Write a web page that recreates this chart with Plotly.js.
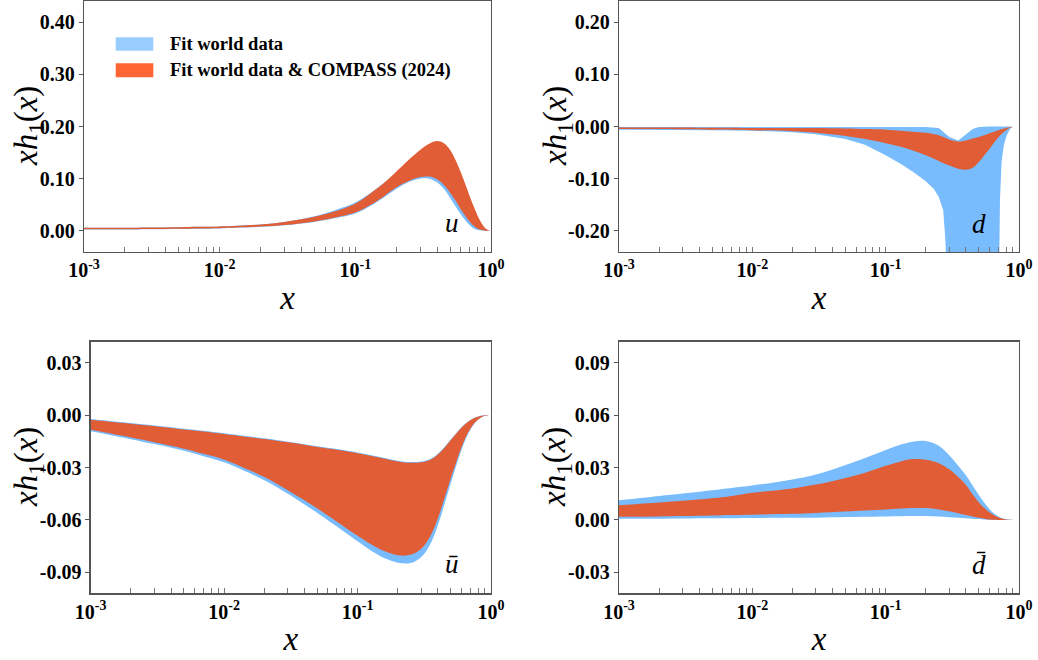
<!DOCTYPE html>
<html><head><meta charset="utf-8">
<script src="https://cdn.plot.ly/plotly-3.0.1.min.js"></script>
<style>html,body{margin:0;padding:0;background:#fff}#chart{width:1038px;height:660px}</style>
</head><body><div id="chart"></div>
<script>
// ---------- data ----------
const X = [0.001,0.002,0.003,0.005,0.007,0.01,0.02,0.03,0.05,0.07,0.1,0.13,0.16,0.2,0.25,0.3,0.35,0.4,0.45,0.5,0.55,0.6,0.65,0.7,0.75,0.8,0.85,0.9,0.95,1.0];

// u quark
const uWorldUp   = [0.006,0.006,0.0065,0.007,0.0075,0.008,0.012,0.017,0.028,0.039,0.054,0.073,0.090,0.110,0.128,0.140,0.145,0.145,0.138,0.126,0.110,0.092,0.073,0.054,0.037,0.023,0.012,0.005,0.001,0];
const uWorldLo   = [0.0025,0.0025,0.003,0.0035,0.004,0.0045,0.0075,0.0105,0.017,0.024,0.033,0.048,0.063,0.080,0.094,0.100,0.100,0.093,0.080,0.063,0.046,0.031,0.019,0.010,0.004,0.0015,0.0004,0,0,0];
const uCompUp    = [0.006,0.006,0.0065,0.007,0.0075,0.008,0.012,0.017,0.027,0.037,0.052,0.072,0.090,0.113,0.137,0.155,0.167,0.172,0.168,0.155,0.135,0.112,0.088,0.065,0.045,0.028,0.015,0.006,0.0015,0];
const uCompLo    = [0.003,0.003,0.0035,0.004,0.0045,0.005,0.008,0.011,0.018,0.025,0.035,0.050,0.065,0.083,0.096,0.103,0.104,0.099,0.088,0.073,0.057,0.041,0.028,0.017,0.009,0.004,0.0015,0.0004,0,0];

// d quark
const dWorldUp   = [-0.001,-0.001,-0.001,-0.001,-0.001,-0.001,-0.0005,0,0,0,0,0,0,-0.001,-0.003,-0.020,-0.027,-0.016,-0.005,-0.001,0,0,0,0,0,0,0,0,0,0];
const XdWorldLo  = [0.001,0.002,0.005,0.01,0.02,0.03,0.05,0.07,0.1,0.13,0.16,0.2,0.23,0.25,0.27,0.28,0.29,0.3,0.7,0.71,0.72,0.74,0.77,0.81,0.87,0.9,1.0];
const dWorldLo   = [-0.006,-0.0065,-0.007,-0.008,-0.011,-0.015,-0.024,-0.035,-0.055,-0.072,-0.087,-0.105,-0.120,-0.135,-0.160,-0.215,-0.300,-0.400,-0.400,-0.260,-0.140,-0.068,-0.035,-0.017,-0.002,0,0];
const dCompUp    = [-0.002,-0.002,-0.002,-0.0025,-0.0025,-0.003,-0.003,-0.003,-0.004,-0.005,-0.006,-0.008,-0.010,-0.012,-0.017,-0.025,-0.029,-0.027,-0.023,-0.020,-0.017,-0.013,-0.010,-0.007,-0.005,-0.003,-0.0015,-0.001,-0.0003,0];
const dCompLo    = [-0.005,-0.005,-0.0055,-0.006,-0.006,-0.007,-0.009,-0.012,-0.018,-0.024,-0.032,-0.039,-0.046,-0.055,-0.066,-0.075,-0.081,-0.083,-0.079,-0.068,-0.055,-0.043,-0.031,-0.021,-0.013,-0.007,-0.003,-0.001,-0.0003,0];

// u-bar
const ubWorldUp  = [-0.0023,-0.0046,-0.0060,-0.0078,-0.0090,-0.0104,-0.0133,-0.0152,-0.0178,-0.0194,-0.0214,-0.0231,-0.0246,-0.0261,-0.0269,-0.0266,-0.0251,-0.0221,-0.0181,-0.0140,-0.0102,-0.0071,-0.0046,-0.0028,-0.0016,-0.0008,-0.0003,-0.0001,0,0];
const ubWorldLo  = [-0.0093,-0.0138,-0.0166,-0.0204,-0.0235,-0.0270,-0.0373,-0.0450,-0.0560,-0.0638,-0.0722,-0.0782,-0.0820,-0.0845,-0.0847,-0.0812,-0.0740,-0.0630,-0.0505,-0.0388,-0.0287,-0.0200,-0.0132,-0.0084,-0.0050,-0.0027,-0.0013,-0.0004,-0.0001,0];
const ubCompUp   = [-0.0027,-0.0050,-0.0064,-0.0082,-0.0094,-0.0108,-0.0137,-0.0156,-0.0182,-0.0198,-0.0218,-0.0235,-0.0250,-0.0265,-0.0273,-0.0270,-0.0255,-0.0225,-0.0185,-0.0143,-0.0105,-0.0073,-0.0048,-0.0030,-0.0017,-0.0009,-0.0004,-0.0001,0,0];
const ubCompLo   = [-0.0084,-0.0128,-0.0155,-0.0192,-0.0222,-0.0255,-0.0355,-0.0430,-0.0535,-0.0610,-0.0690,-0.0745,-0.0780,-0.0802,-0.0800,-0.0765,-0.0695,-0.0590,-0.0470,-0.0360,-0.0265,-0.0185,-0.0122,-0.0078,-0.0046,-0.0025,-0.0012,-0.0004,-0.0001,0];

// d-bar
const dbWorldUp  = [0.0112,0.0137,0.0151,0.0170,0.0183,0.0197,0.0232,0.0260,0.0315,0.0355,0.0400,0.0432,0.0448,0.0452,0.0425,0.0370,0.0310,0.0255,0.0195,0.0142,0.0098,0.0063,0.0037,0.0020,0.0010,0.0004,0.0001,0,0,0];
const dbWorldLo  = [0.0006,0.0007,0.0008,0.0009,0.001,0.0011,0.0012,0.0013,0.0016,0.0018,0.002,0.0021,0.0022,0.0022,0.0019,0.0015,0.0012,0.001,0.0007,0.0005,0.0003,0.0001,0,0,0,0,0,0,0,0];
const dbCompUp   = [0.0084,0.0100,0.0110,0.0124,0.0137,0.0155,0.0180,0.0202,0.0240,0.0270,0.0310,0.0335,0.0348,0.0345,0.0325,0.0290,0.0245,0.0200,0.0145,0.0100,0.0068,0.0044,0.0027,0.0015,0.0007,0.0003,0.0001,0,0,0];
const dbCompLo   = [0.0018,0.002,0.0022,0.0025,0.0028,0.003,0.0035,0.004,0.0048,0.0054,0.0059,0.0065,0.0068,0.0068,0.006,0.0049,0.0038,0.0028,0.0019,0.0012,0.0007,0.0003,0.0001,0,0,0,0,0,0,0];

// ticks
const xTickVals = [0.001,0.01,0.1,1];
const xTickText = ['10<sup>-3</sup>','10<sup>-2</sup>','10<sup>-1</sup>','10<sup>0</sup>'];
const xMinorVals = [0.002,0.003,0.004,0.005,0.006,0.007,0.008,0.009,0.02,0.03,0.04,0.05,0.06,0.07,0.08,0.09,0.2,0.3,0.4,0.5,0.6,0.7,0.8,0.9];
const uTickVals = [0,0.1,0.2,0.3,0.4];
const uTickText = ['0.00','0.10','0.20','0.30','0.40'];
const dTickVals = [-0.2,-0.1,0,0.1,0.2];
const dTickText = ['-0.20','-0.10','0.00','0.10','0.20'];
const ubTickVals = [-0.09,-0.06,-0.03,0,0.03];
const ubTickText = ['-0.09','-0.06','-0.03','0.00','0.03'];
const dbTickVals = [-0.03,0,0.03,0.06,0.09];
const dbTickText = ['-0.03','0.00','0.03','0.06','0.09'];

const seriesNames = ['Fit world data','Fit world data & COMPASS (2024)'];
const panelLabels = ['<i>u</i>','<i>d</i>','<i>ū</i>','<i>d̄</i>'];
const yTitle = '<i>xh</i><sub>1</sub>(<i>x</i>)';
const xTitle = '<i>x</i>';

// ---------- build ----------
const BLUE = '#78bcfd', ORANGE = '#e05d36';
const LEG_BLUE = '#99ccff', LEG_ORANGE = '#ff6633';

function band(xu, up, xl, lo, color, xa, ya, name, shape){
  return {
    type:'scatter', mode:'lines', xaxis:xa, yaxis:ya, name:name,
    x: xu.concat(xl.slice().reverse()),
    y: up.concat(lo.slice().reverse()),
    fill:'toself', fillcolor:color,
    line:{width:0, color:color, shape:shape||'spline', smoothing:1},
    hoverinfo:'skip', showlegend:false
  };
}

const traces = [
  band(X,uWorldUp,X,uWorldLo,BLUE,'x','y',seriesNames[0]),
  band(X,uCompUp,X,uCompLo,ORANGE,'x','y',seriesNames[1]),
  band(X,dWorldUp,XdWorldLo,dWorldLo,BLUE,'x2','y2',seriesNames[0],'linear'),
  band(X,dCompUp,X,dCompLo,ORANGE,'x2','y2',seriesNames[1]),
  band(X,ubWorldUp,X,ubWorldLo,BLUE,'x3','y3',seriesNames[0]),
  band(X,ubCompUp,X,ubCompLo,ORANGE,'x3','y3',seriesNames[1]),
  band(X,dbWorldUp,X,dbWorldLo,BLUE,'x4','y4',seriesNames[0]),
  band(X,dbCompUp,X,dbCompLo,ORANGE,'x4','y4',seriesNames[1])
];

const W = 1038, H = 660;
const tickFont = {family:'Liberation Serif', size:20, color:'#000', weight:'bold'};
const titleFont = {family:'Liberation Serif', size:33, color:'#000'};
const yTitleFont = {family:'Liberation Serif', size:33, color:'#000'};

function xax(domain, anchor){
  return {
    type:'log', range:[-3,0], domain:domain, anchor:anchor,
    tickmode:'array', tickvals:xTickVals, ticktext:xTickText,
    ticks:'inside', ticklen:5, tickwidth:1, tickcolor:'#777',
    minor:{tickmode:'array', tickvals:xMinorVals, ticks:'inside', ticklen:5, tickwidth:1, tickcolor:'#777', showgrid:false},
    showline:true, mirror:true, linecolor:'#555', linewidth:1.3,
    showgrid:false, zeroline:false, tickfont:tickFont,
    title:{text:xTitle, font:titleFont, standoff:5}
  };
}
function yax(domain, anchor, range, tv, tt){
  return {
    range:range, domain:domain, anchor:anchor,
    tickmode:'array', tickvals:tv, ticktext:tt,
    ticks:'outside', ticklen:4, tickwidth:1, tickcolor:'#555',
    showline:true, mirror:true, linecolor:'#555', linewidth:1.3,
    showgrid:false, zeroline:false, tickfont:tickFont
  };
}

const xL = [84/W, 491/W], xL3 = [90.7/W, 491/W], xR = [619/W, 1019/W];
const yT = [1-252/H, 1-1/H], yB = [1-593.3/H, 1-341.7/H];

function px(v){return v/W;} function py(v){return 1-v/H;}
const legFont = {family:'Liberation Serif', size:18.5, color:'#000', weight:'bold'};
const labFont = {family:'Liberation Serif', size:27, color:'#000'};

function yTitleAnn(xc, yc){
  return {xref:'paper', yref:'paper', x:px(xc), y:py(yc), xanchor:'center', yanchor:'middle', textangle:-90, showarrow:false, text:yTitle, font:yTitleFont};
}

const layout = {
  width:W, height:H, margin:{l:0,r:0,t:0,b:0},
  paper_bgcolor:'#fff', plot_bgcolor:'#fff', showlegend:false,
  xaxis: xax(xL,'y'),  yaxis: yax(yT,'x',[-0.0407,0.4407],uTickVals,uTickText),
  xaxis2: xax(xR,'y2'), yaxis2: yax(yT,'x2',[-0.2407,0.2407],dTickVals,dTickText),
  xaxis3: xax(xL3,'y3'), yaxis3: yax(yB,'x3',[-0.1020,0.0420],ubTickVals,ubTickText),
  xaxis4: xax(xR,'y4'), yaxis4: yax(yB,'x4',[-0.0420,0.1020],dbTickVals,dbTickText),
  shapes:[
    {type:'rect', xref:'paper', yref:'paper', x0:px(115.7), x1:px(153.3), y0:py(50.7), y1:py(37.3), fillcolor:LEG_BLUE, line:{width:0}},
    {type:'rect', xref:'paper', yref:'paper', x0:px(115.7), x1:px(153.3), y0:py(77.3), y1:py(63.3), fillcolor:LEG_ORANGE, line:{width:0}}
  ],
  annotations:[
    {xref:'paper', yref:'paper', x:px(168), y:py(44), xanchor:'left', yanchor:'middle', showarrow:false, text:seriesNames[0], font:legFont},
    {xref:'paper', yref:'paper', x:px(168), y:py(70.3), xanchor:'left', yanchor:'middle', showarrow:false, text:seriesNames[1], font:legFont},
    {xref:'paper', yref:'paper', x:px(452), y:py(223), xanchor:'center', yanchor:'middle', showarrow:false, text:panelLabels[0], font:labFont},
    {xref:'paper', yref:'paper', x:px(979), y:py(224), xanchor:'center', yanchor:'middle', showarrow:false, text:panelLabels[1], font:labFont},
    {xref:'paper', yref:'paper', x:px(452), y:py(564), xanchor:'center', yanchor:'middle', showarrow:false, text:panelLabels[2], font:labFont},
    {xref:'paper', yref:'paper', x:px(979), y:py(565), xanchor:'center', yanchor:'middle', showarrow:false, text:panelLabels[3], font:labFont},
    yTitleAnn(28, 126), yTitleAnn(557, 126), yTitleAnn(29, 467), yTitleAnn(557, 467)
  ]
};

Plotly.newPlot('chart', traces, layout, {displayModeBar:false, staticPlot:true});
</script></body></html>
